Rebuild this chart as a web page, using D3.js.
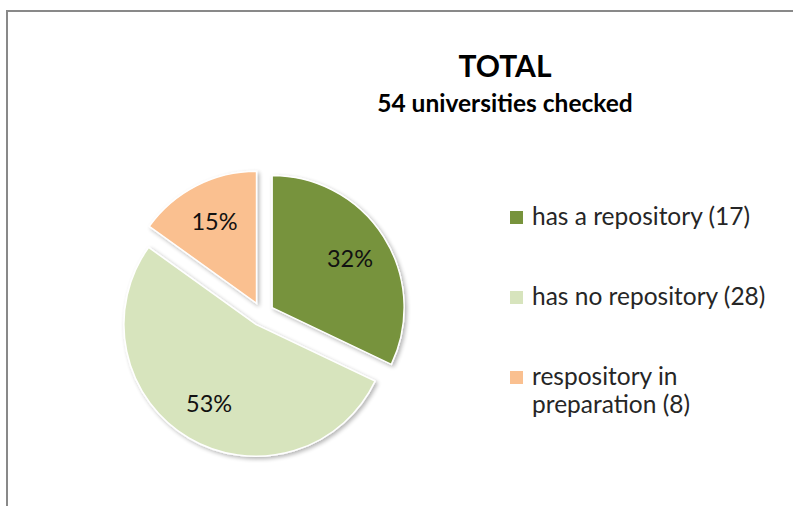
<!DOCTYPE html>
<html>
<head>
<meta charset="utf-8">
<script src="https://cdn.jsdelivr.net/npm/d3@7"></script>
<style>
  body { margin: 0; background: #fff; }
  svg { display: block; }
</style>
</head>
<body>
<div id="chart"></div>
<script>
// data
const categories = ["has a repository", "has no repository", "respository in preparation"]
const counts = [17, 28, 8]
const colors = ["#77933C", "#D7E4BD", "#FAC090"]

let width = 793
let height = 506
let font = "Lato, 'Open Sans', sans-serif"

// pie geometry
let cx = 262
let cy = 314
let radius = 132
let explode = 12
let label_r = 92

let svg = d3.select("#chart").append("svg")
  .attr("width", width)
  .attr("height", height)
  .attr("viewBox", [0, 0, width, height])

let defs = svg.append("defs")
let shadow = defs.append("filter").attr("id", "shadow")
  .attr("x", "-20%").attr("y", "-20%").attr("width", "140%").attr("height", "140%")
shadow.append("feGaussianBlur").attr("in", "SourceAlpha").attr("stdDeviation", 2)
shadow.append("feOffset").attr("dx", 2).attr("dy", 2).attr("result", "blur")
shadow.append("feComponentTransfer").append("feFuncA").attr("type", "linear").attr("slope", 0.3)
let merge = shadow.append("feMerge")
merge.append("feMergeNode")
merge.append("feMergeNode").attr("in", "SourceGraphic")

// frame (top and left edges only visible)
svg.append("path")
  .attr("d", `M7,${height} L7,11 L${width},11`)
  .attr("fill", "none")
  .attr("stroke", "#898989")
  .attr("stroke-width", 2)

// titles
svg.append("text")
  .attr("x", 505).attr("y", 77)
  .attr("text-anchor", "middle")
  .attr("font-family", font).attr("font-weight", 700).attr("font-size", 30)
  .attr("fill", "#000")
  .text("TOTAL")

svg.append("text")
  .attr("x", 505).attr("y", 112)
  .attr("text-anchor", "middle")
  .attr("font-family", font).attr("font-weight", 700).attr("font-size", 24.5)
  .attr("fill", "#000")
  .text("54 universities checked")

// pie
let total = d3.sum(counts)
let pie = d3.pie().sort(null).value(d => d)
let arcs = pie(counts)
let arc = d3.arc().innerRadius(0).outerRadius(radius)

let slices = svg.append("g")
  .attr("transform", `translate(${cx},${cy})`)
  .selectAll("g")
  .data(arcs)
  .join("g")
  .attr("transform", d => {
    let a = (d.startAngle + d.endAngle) / 2
    return `translate(${Math.sin(a) * explode},${-Math.cos(a) * explode})`
  })

slices.append("path")
  .attr("d", arc)
  .attr("fill", (d, i) => colors[i])
  .attr("stroke", "#fff")
  .attr("stroke-width", 1.5)
  .attr("filter", "url(#shadow)")

slices.append("text")
  .attr("x", d => Math.sin((d.startAngle + d.endAngle) / 2) * label_r)
  .attr("y", d => -Math.cos((d.startAngle + d.endAngle) / 2) * label_r)
  .attr("dy", "0.36em")
  .attr("text-anchor", "middle")
  .attr("font-family", font).attr("font-size", 23.5)
  .attr("fill", "#111")
  .text(d => `${Math.round(d.value / total * 100)}%`)

// legend
let legend_rows = [[`${categories[0]} (${counts[0]})`], [`${categories[1]} (${counts[1]})`], ["respository in", `preparation (${counts[2]})`]]
let legend_y = [225, 305, 385]

let legend = svg.append("g")
  .selectAll("g")
  .data(legend_rows)
  .join("g")
  .attr("transform", (d, i) => `translate(510,${legend_y[i]})`)

legend.append("rect")
  .attr("x", 0).attr("y", -14)
  .attr("width", 13).attr("height", 13)
  .attr("fill", (d, i) => colors[i])

legend.append("text")
  .attr("x", 22).attr("y", 0)
  .attr("font-family", font).attr("font-size", 24.5)
  .attr("fill", "#262626")
  .selectAll("tspan")
  .data(d => d)
  .join("tspan")
  .attr("x", 22)
  .attr("dy", (d, i) => i == 0 ? 0 : 28)
  .text(d => d)
</script>
</body>
</html>
